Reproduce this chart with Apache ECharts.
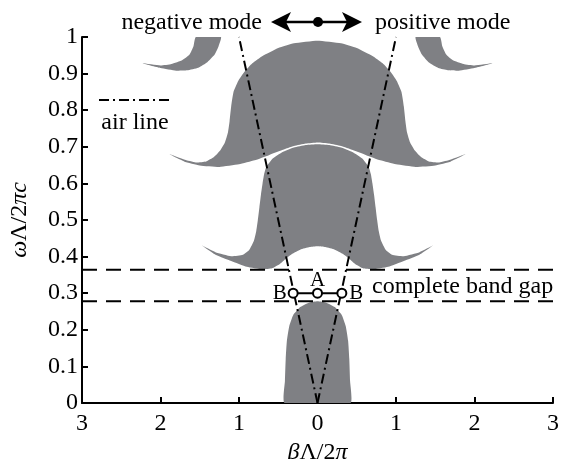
<!DOCTYPE html>
<html>
<head>
<meta charset="utf-8">
<script src="https://cdn.jsdelivr.net/npm/echarts@6/dist/echarts.min.js"></script>
<style>html,body{margin:0;padding:0;background:#fff}#c{width:565px;height:459px}</style>
</head>
<body>
<div id="c"></div>
<script>
// ---- data (β, ω) ----
const xTicks = [-3, -2, -1, 0, 1, 2, 3];
const yTicks = [0, 0.1, 0.2, 0.3, 0.4, 0.5, 0.6, 0.7, 0.8, 0.9, 1];

const band1 = [[-0.42,0],[-0.415,0.06],[-0.405,0.12],[-0.39,0.17],[-0.36,0.21],[-0.31,0.24],[-0.22,0.262],[-0.11,0.274],[0,0.278],
  [0.11,0.274],[0.22,0.262],[0.31,0.24],[0.36,0.21],[0.39,0.17],[0.405,0.12],[0.415,0.06],[0.42,0]];

const band2 = [[-1.47,0.43],[-1.3,0.412],[-1.1,0.401],[-0.95,0.405],[-0.87,0.418],[-0.81,0.443],[-0.78,0.47],[-0.76,0.50],[-0.74,0.535],
  [-0.72,0.57],[-0.70,0.60],[-0.68,0.625],[-0.65,0.646],[-0.57,0.668],[-0.45,0.685],[-0.3,0.698],[-0.15,0.705],[0,0.707],
  [0.15,0.705],[0.3,0.698],[0.45,0.685],[0.57,0.668],[0.65,0.646],[0.68,0.625],[0.70,0.60],[0.72,0.57],[0.74,0.535],[0.76,0.50],
  [0.78,0.47],[0.81,0.443],[0.87,0.418],[0.95,0.405],[1.1,0.401],[1.3,0.412],[1.47,0.43],
  [1.3,0.405],[1.1,0.388],[0.9,0.372],[0.7,0.365],[0.58,0.368],[0.48,0.38],[0.4,0.395],[0.32,0.408],[0.22,0.419],[0.1,0.426],[0,0.428],
  [-0.1,0.426],[-0.22,0.419],[-0.32,0.408],[-0.4,0.395],[-0.48,0.38],[-0.58,0.368],[-0.7,0.365],[-0.9,0.372],[-1.1,0.388],[-1.3,0.405]];

const band3 = [[-1.89,0.68],[-1.7,0.665],[-1.55,0.657],[-1.42,0.66],[-1.32,0.672],[-1.24,0.69],[-1.18,0.712],[-1.14,0.74],[-1.12,0.77],
  [-1.10,0.81],[-1.07,0.85],[-1.01,0.88],[-0.93,0.905],[-0.83,0.928],[-0.7,0.948],[-0.5,0.97],[-0.3,0.983],[0,0.99],
  [0.3,0.983],[0.5,0.97],[0.7,0.948],[0.83,0.928],[0.93,0.905],[1.01,0.88],[1.07,0.85],[1.10,0.81],[1.12,0.77],[1.14,0.74],
  [1.18,0.712],[1.24,0.69],[1.32,0.672],[1.42,0.66],[1.55,0.657],[1.7,0.665],[1.89,0.68],
  [1.7,0.66],[1.5,0.649],[1.25,0.645],[1.0,0.652],[0.8,0.663],[0.62,0.677],[0.45,0.691],[0.3,0.702],[0.15,0.709],[0,0.712],
  [-0.15,0.709],[-0.3,0.702],[-0.45,0.691],[-0.62,0.677],[-0.8,0.663],[-1.0,0.652],[-1.25,0.645],[-1.5,0.649],[-1.7,0.66]];

const cornerLeft = [[-1.23,1.0],[-1.26,0.975],[-1.31,0.952],[-1.40,0.932],[-1.52,0.916],[-1.66,0.909],[-1.80,0.908],[-2.0,0.915],
  [-2.23,0.928],[-2.0,0.922],[-1.86,0.926],[-1.72,0.937],[-1.63,0.952],[-1.58,0.975],[-1.55,1.0]];
const cornerRight = [[1.25,1.0],[1.28,0.975],[1.33,0.952],[1.42,0.93],[1.54,0.915],[1.66,0.909],[1.80,0.908],[2.0,0.915],
  [2.23,0.928],[2.0,0.922],[1.86,0.926],[1.72,0.937],[1.64,0.952],[1.59,0.975],[1.56,1.0]];

const airLineLeft = [[0,0],[-1,1]];
const airLineRight = [[0,0],[1,1]];
const gapTop = 0.364;
const gapBottom = 0.278;
const pointBeta = [-0.31, 0, 0.31];
const pointOmega = 0.3;
const pointLabels = ['B', 'A', 'B'];

// ---- styling ----
const gray = '#7f8084';
const FONT = 'Liberation Serif';
const FS = 24;

function bandSeries(pts) {
  return {
    type: 'custom', data: pts, encode: { x: 0, y: 1 }, clip: true, silent: true, z: 1,
    renderItem: function (params, api) {
      if (params.dataIndex !== 0) return null;
      return { type: 'polygon', shape: { points: pts.map(p => api.coord(p)), smooth: 0.15 },
        style: { fill: gray, stroke: null, lineWidth: 0 } };
    }
  };
}

function dashed(y) {
  return { type: 'line', data: [[xTicks[0], y], [xTicks[xTicks.length - 1], y]], symbol: 'none', silent: true, z: 3,
    lineStyle: { color: '#000', width: 2, type: [15, 9] } };
}
function air(d) {
  return { type: 'line', data: d, symbol: 'none', silent: true, z: 4,
    lineStyle: { color: '#000', width: 2, type: [10, 4, 2, 4] } };
}

const chart = echarts.init(document.getElementById('c'), null, { renderer: 'canvas' });
const labelPos = ['left', 'top', 'right'];
const labelDist = [1, -3, 2];
const rich = { i: { fontStyle: 'italic', fontFamily: FONT, fontSize: FS, color: '#000' } };

chart.setOption({
  animation: false,
  backgroundColor: '#fff',
  textStyle: { fontFamily: FONT },
  grid: { left: 82, right: 12, top: 37, bottom: 56, containLabel: false, outerBoundsMode: 'none' },
  xAxis: {
    type: 'value', min: xTicks[0], max: xTicks[xTicks.length - 1], interval: 1,
    axisLine: { onZero: false, lineStyle: { color: '#000', width: 2 } },
    axisTick: { inside: true, length: 6, lineStyle: { color: '#000', width: 2 } },
    axisLabel: { color: '#000', fontFamily: FONT, fontSize: FS, margin: 9, formatter: v => String(Math.abs(v)) },
    splitLine: { show: false },
    name: '{i|β}Λ/2{i|π}', nameLocation: 'middle', nameGap: 27,
    nameTextStyle: { color: '#000', fontFamily: FONT, fontSize: FS, rich: rich }
  },
  yAxis: {
    type: 'value', min: yTicks[0], max: yTicks[yTicks.length - 1], interval: 0.1,
    axisLine: { onZero: false, lineStyle: { color: '#000', width: 2 } },
    axisTick: { inside: true, length: 6, lineStyle: { color: '#000', width: 2 } },
    axisLabel: { color: '#000', fontFamily: FONT, fontSize: FS, margin: 4 },
    splitLine: { show: false },
    name: '{i|ω}Λ/2{i|πc}', nameLocation: 'middle', nameGap: 50, nameRotate: 90,
    nameTextStyle: { color: '#000', fontFamily: FONT, fontSize: FS, rich: rich }
  },
  series: [
    bandSeries(band1), bandSeries(band2), bandSeries(band3), bandSeries(cornerLeft), bandSeries(cornerRight),
    dashed(gapTop), dashed(gapBottom),
    air(airLineLeft), air(airLineRight),
    { type: 'line', data: pointBeta.map(b => [b, pointOmega]), symbol: 'none', silent: true, z: 5,
      lineStyle: { color: '#000', width: 2 } },
    { type: 'scatter', symbol: 'circle', symbolSize: 9, silent: true, z: 6,
      itemStyle: { color: '#fff', borderColor: '#000', borderWidth: 2, opacity: 1 },
      data: pointBeta.map((b, i) => ({ value: [b, pointOmega],
        label: { show: true, formatter: pointLabels[i], position: labelPos[i], distance: labelDist[i],
          color: '#000', fontFamily: FONT, fontSize: 21 } })) }
  ],
  graphic: [
    // legend sample
    { type: 'line', shape: { x1: 99, y1: 100, x2: 171, y2: 100 }, style: { stroke: '#000', lineWidth: 2, lineDash: [10, 4, 2, 4] } },
    { type: 'text', x: 135, y: 123, style: { text: 'air line', fontFamily: FONT, fontSize: FS, fill: '#000', align: 'center', verticalAlign: 'middle' } },
    // top annotations
    { type: 'text', x: 262, y: 23, style: { text: 'negative mode', fontFamily: FONT, fontSize: FS, fill: '#000', align: 'right', verticalAlign: 'middle' } },
    { type: 'text', x: 375, y: 23, style: { text: 'positive mode', fontFamily: FONT, fontSize: FS, fill: '#000', align: 'left', verticalAlign: 'middle' } },
    { type: 'line', shape: { x1: 280, y1: 22, x2: 352, y2: 22 }, style: { stroke: '#000', lineWidth: 2.5 } },
    { type: 'polygon', shape: { points: [[271, 22], [291, 12], [286, 22], [291, 32]] }, style: { fill: '#000' } },
    { type: 'polygon', shape: { points: [[362, 22], [342, 12], [347, 22], [342, 32]] }, style: { fill: '#000' } },
    { type: 'circle', shape: { cx: 318, cy: 22, r: 5 }, style: { fill: '#000' } },
    { type: 'text', x: 372, y: 287, style: { text: 'complete band gap', fontFamily: FONT, fontSize: FS, fill: '#000', align: 'left', verticalAlign: 'middle' } }
  ]
});
</script>
</body>
</html>
